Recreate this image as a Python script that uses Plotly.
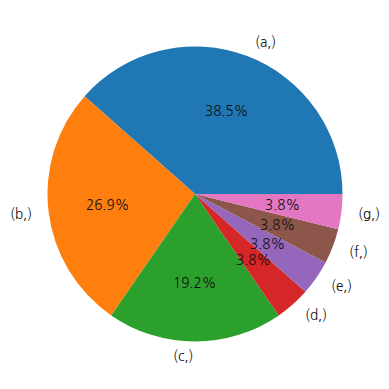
import math
import plotly.graph_objects as go

labels = ["(a,)", "(b,)", "(c,)", "(d,)", "(e,)", "(f,)", "(g,)"]
values = [10, 7, 5, 1, 1, 1, 1]
colors = ["#1f77b4", "#ff7f0e", "#2ca02c", "#d62728", "#9467bd", "#8c564b", "#e377c2"]

W = H = 389
OFF = 8.0  # page body margin
CX, CY, R = 195.0 - OFF, 194.0 - OFF, 147.5
FONT = "NanumGothic, Noto Sans CJK KR, DejaVu Sans"

total = sum(values)
# plotly (counterclockwise): first slice spans clockwise from `rotation`
rot = 90 - 360 * values[0] / total

fig = go.Figure()
fig.add_trace(go.Pie(
    labels=labels, values=values, sort=False, direction="counterclockwise",
    rotation=rot, marker=dict(colors=colors, line=dict(width=0)),
    textinfo="none", hoverinfo="label+percent", showlegend=False,
    domain=dict(x=[(CX - R) / W, (CX + R) / W], y=[1 - (CY + R) / H, 1 - (CY - R) / H]),
))

ann = []
start = 0.0
for lab, v in zip(labels, values):
    frac = v / total
    mid = math.radians((start + frac / 2) * 360)
    start += frac
    c, s = math.cos(mid), math.sin(mid)
    ann.append(dict(x=(CX + 1.1 * R * c) / W, y=1 - (CY - 1.1 * R * s) / H,
                    xref="paper", yref="paper", text=lab, showarrow=False,
                    xanchor="left" if c > 0 else "right", yanchor="middle",
                    font=dict(family=FONT, size=13.5, color="#111")))
    ann.append(dict(x=(CX + 0.6 * R * c) / W, y=1 - (CY - 0.6 * R * s) / H,
                    xref="paper", yref="paper", text=f"{frac*100:.1f}%", showarrow=False,
                    xanchor="center", yanchor="middle",
                    font=dict(family=FONT, size=13.5, color="#111")))

fig.update_layout(width=W, height=H, margin=dict(l=0, r=0, t=0, b=0),
                  paper_bgcolor="white", plot_bgcolor="white", annotations=ann)
fig.write_html("out.html")
